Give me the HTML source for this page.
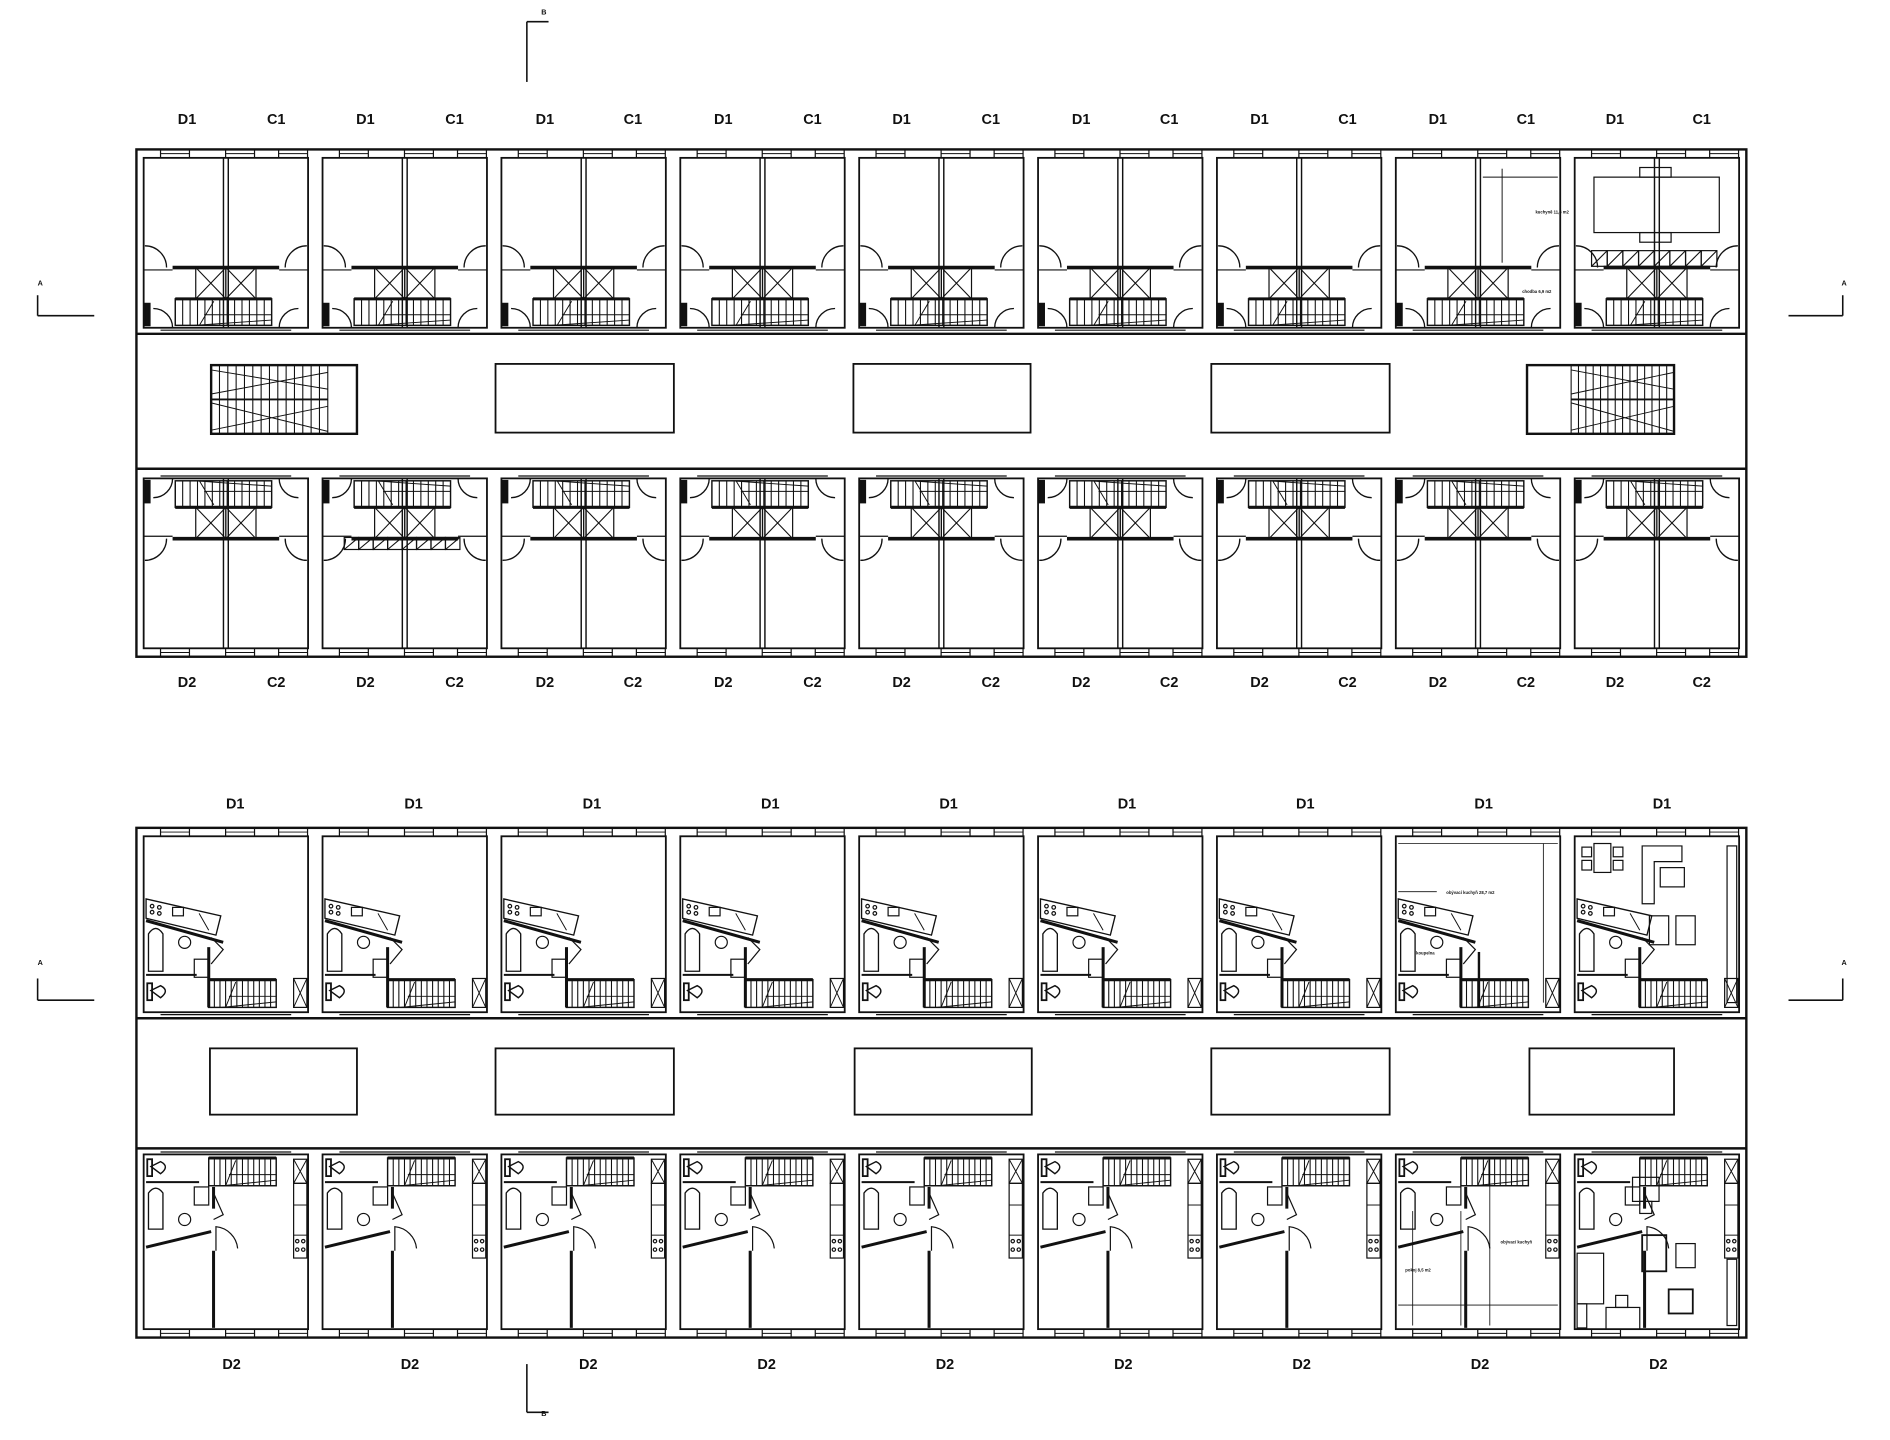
<!DOCTYPE html>
<html><head><meta charset="utf-8"><style>
html,body{margin:0;padding:0;background:#fff;}
svg{display:block}
text{font-family:"Liberation Sans",sans-serif;font-weight:bold;fill:#111;}
</style></head><body>
<svg id="s" xmlns="http://www.w3.org/2000/svg" width="1890" height="1440" viewBox="0 0 1568 1195">
<rect width="1568" height="1195" fill="#fff"/>
<g font-size="12" text-anchor="middle">
<text x="155" y="103">D1</text><text x="229" y="103">C1</text>
<text x="303" y="103">D1</text><text x="377" y="103">C1</text>
<text x="452" y="103">D1</text><text x="525" y="103">C1</text>
<text x="600" y="103">D1</text><text x="674" y="103">C1</text>
<text x="748" y="103">D1</text><text x="822" y="103">C1</text>
<text x="897" y="103">D1</text><text x="970" y="103">C1</text>
<text x="1045" y="103">D1</text><text x="1118" y="103">C1</text>
<text x="1193" y="103">D1</text><text x="1266" y="103">C1</text>
<text x="1340" y="103">D1</text><text x="1412" y="103">C1</text>
<text x="155" y="570">D2</text><text x="229" y="570">C2</text>
<text x="303" y="570">D2</text><text x="377" y="570">C2</text>
<text x="452" y="570">D2</text><text x="525" y="570">C2</text>
<text x="600" y="570">D2</text><text x="674" y="570">C2</text>
<text x="748" y="570">D2</text><text x="822" y="570">C2</text>
<text x="897" y="570">D2</text><text x="970" y="570">C2</text>
<text x="1045" y="570">D2</text><text x="1118" y="570">C2</text>
<text x="1193" y="570">D2</text><text x="1266" y="570">C2</text>
<text x="1340" y="570">D2</text><text x="1412" y="570">C2</text>
<text x="195" y="671">D1</text><text x="343" y="671">D1</text><text x="491" y="671">D1</text>
<text x="639" y="671">D1</text><text x="787" y="671">D1</text><text x="935" y="671">D1</text>
<text x="1083" y="671">D1</text><text x="1231" y="671">D1</text><text x="1379" y="671">D1</text>
<text x="192" y="1136">D2</text><text x="340" y="1136">D2</text><text x="488" y="1136">D2</text>
<text x="636" y="1136">D2</text><text x="784" y="1136">D2</text><text x="932" y="1136">D2</text>
<text x="1080" y="1136">D2</text><text x="1228" y="1136">D2</text><text x="1376" y="1136">D2</text>
</g>
<g font-size="6">
<text x="449" y="12">B</text><text x="449" y="1175">B</text>
<text x="31" y="237">A</text><text x="1528" y="237">A</text>
<text x="31" y="801">A</text><text x="1528" y="801">A</text>
<text x="1274" y="177" font-size="3.5">kuchyně 11,8 m2</text>
<text x="1263" y="243" font-size="3.5">chodba 6,9 m2</text>
<text x="1200" y="742" font-size="3.5">obývací kuchyň 28,7 m2</text>
<text x="1175" y="792" font-size="3.5">koupelna</text>
<text x="1245" y="1032" font-size="3.5">obývací kuchyň</text>
<text x="1166" y="1055" font-size="3.5">pokoj 8,5 m2</text>
</g>
<g id="g" fill="none" stroke="#111" stroke-width="1.2"></g>
</svg>
<script>
const NS="http://www.w3.org/2000/svg",G=document.getElementById('g');
function el(t,a,p){const e=document.createElementNS(NS,t);for(const k in a)e.setAttribute(k,a[k]);(p||G).appendChild(e);return e;}
function L(x1,y1,x2,y2,w,p){el('line',{x1,y1,x2,y2,'stroke-width':w||1.2},p);}
function R(x,y,w,h,sw,p,f){el('rect',{x,y,width:w,height:h,'stroke-width':sw||1.2,fill:f||'none'},p);}
function P(d,sw,p,f){el('path',{d,'stroke-width':sw||1.2,fill:f||'none'},p);}
function C(cx,cy,r,p){el('circle',{cx,cy,r,'stroke-width':1},p);}
const X0=113,W=1336/9;
function stairs(x,y,w,h,p,n){R(x,y,w,h,1.2,p);L(x,y,x+w,y,2.5,p);const k=n||13;for(let i=1;i<k;i++)L(x+i*w/k,y,x+i*w/k,y+h,0.9,p);P(`M${x+w*0.25} ${y+h}L${x+w*0.4} ${y+2}M${x+w*0.3} ${y+h*0.6}L${x+w} ${y+h*0.6}M${x+w*0.2} ${y+h}L${x+w} ${y+h*0.8}`,0.8,p);}
function windows(y,yy){for(let m=0;m<9;m++){const x=X0+m*W;[[20,44],[74,98],[118,142]].forEach(([a,b])=>{if(x+b<1446){L(x+a,y,x+a,yy,1,null);L(x+b,y,x+b,yy,1);L(x+a,(y+yy)/2,x+b,(y+yy)/2,0.8);}});}}
R(113,124,1336,421,2);
L(113,277,1449,277,2);L(113,389,1449,389,2);
windows(124,131);windows(538,545);
function topUnit(x0,p){
 R(x0+6,131,W-12,141,1.5,p);
 L(x0+W/2-2,131,x0+W/2-2,272,1.2,p);L(x0+W/2+2,131,x0+W/2+2,272,1.2,p);
 L(x0+30,222,x0+W-30,222,3,p);L(x0+6,224,x0+30,224,1,p);L(x0+W-30,224,x0+W-6,224,1,p);
 P(`M${x0+7} ${204}A18 18 0 0 1 ${x0+25} 222`,1.1,p);
 P(`M${x0+W-25} 222A18 18 0 0 1 ${x0+W-7} 204`,1.1,p);
 const bx=x0+W/2-25;R(bx,222,25,26,1,p);R(bx+25,222,25,26,1,p);
 P(`M${bx} 222L${bx+25} 248M${bx+25} 222L${bx} 248M${bx+25} 222L${bx+50} 248M${bx+50} 222L${bx+25} 248`,0.9,p);
 stairs(x0+W/2-42,248,80,22,p);
 P(`M${x0+14} 256A16 16 0 0 1 ${x0+30} 272`,1.1,p);
 P(`M${x0+W-30} 272A16 16 0 0 1 ${x0+W-14} 256`,1.1,p);
 R(x0+7,252,4,18,1.5,p,'#111');
 L(x0+20,274,x0+W-20,274,1,p);
}
for(let m=0;m<9;m++){const x0=X0+m*W;topUnit(x0);const g=el('g',{transform:'matrix(1,0,0,-1,0,669)'});topUnit(x0,g);}
{const x0=X0+8*W;R(x0+22,147,104,46,1);R(x0+60,139,26,8,1);R(x0+60,193,26,8,1);
 for(let i=0;i<8;i++){R(x0+20+i*13,208,13,13,1);L(x0+20+i*13,221,x0+33+i*13,208,0.9);}
 const x1=X0+7*W;L(x1+W/2+20,140,x1+W/2+20,218,0.8);L(x1+W/2+4,147,x1+W-8,147,0.8);}
{const x0=X0+1*W;for(let i=0;i<8;i++){R(x0+24+i*12,446,12,10,1);L(x0+24+i*12,456,x0+36+i*12,446,0.9);}}
function cstair(x,y,w,h,left){R(x,y,w,h,2);const sx=left?x:x+w*0.3,ex=left?x+w*0.8:x+w;for(let i=0;i<=14;i++){const xx=sx+i*(ex-sx)/14;L(xx,y,xx,y+h,0.9);}
 L(sx,y+h/2,ex,y+h/2,1.5);P(`M${sx} ${y+4}L${ex} ${y+h*0.35}M${sx} ${y+h*0.42}L${ex} ${y+6}M${ex} ${y+h*0.6}L${sx} ${y+h-3}M${ex} ${y+h-2}L${sx} ${y+h*0.55}`,0.8);}
cstair(175,303,121,57,true);cstair(1267,303,122,57,false);
R(411,302,148,57,1.5);R(708,302,147,57,1.5);R(1005,302,148,57,1.5);
R(113,687,1336,423,2);L(113,845,1449,845,2);L(113,953,1449,953,2);
windows(687,694);windows(1103,1110);
for(let m=0;m<9;m++){const x0=X0+m*W;
 R(x0+6,694,W-12,146,1.5);L(x0+20,842,x0+W-20,842,1);L(x0+20,956,x0+W-20,956,1);
 P(`M${x0+8} 746L${x0+70} 760L${x0+66} 776L${x0+8} 762Z`,1.1);
 P(`M${x0+8} 764L${x0+72} 782`,2.5);
 C(x0+13,752,1.5);C(x0+19,753,1.5);C(x0+13,757,1.5);C(x0+19,758,1.5);
 R(x0+30,753,9,7,1);P(`M${x0+52} 758L${x0+60} 772`,0.8);
 P(`M${x0+62} 778L${x0+72} 788L${x0+62} 800`,1);
 P(`M${x0+10} 806L${x0+10} 775Q${x0+16} 766 ${x0+22} 775L${x0+22} 806Z`,1.1);
 C(x0+40,782,5);L(x0+8,809,x0+50,809,1.6);
 P(`M${x0+12} 822L${x0+20} 818Q${x0+28} 822 ${x0+20} 828Z`,1.2);R(x0+9,816,4,14,1.5);
 L(x0+60,786,x0+60,836,2.5);R(x0+48,796,12,15,1);
 stairs(x0+60,813,56,23,null,12);
 R(x0+W-18,812,11,24,1);P(`M${x0+W-18} 812L${x0+W-7} 836M${x0+W-7} 812L${x0+W-18} 836`,0.8);
 R(x0+6,958,W-12,145,1.5);
 P(`M${x0+12} 968L${x0+20} 964Q${x0+28} 968 ${x0+20} 974Z`,1.2);R(x0+9,962,4,14,1.5);
 L(x0+8,981,x0+52,981,1.6);
 stairs(x0+60,961,56,23,null,12);
 R(x0+48,985,12,15,1);
 P(`M${x0+10} 1020L${x0+10} 990Q${x0+16} 982 ${x0+22} 990L${x0+22} 1020Z`,1.1);
 C(x0+40,1012,5);
 P(`M${x0+8} 1035L${x0+62} 1022`,2.5);
 L(x0+64,985,x0+64,1003,2.5);L(x0+64,1038,x0+64,1102,2.5);
 P(`M${x0+66} 1038L${x0+66} 1018A20 20 0 0 1 ${x0+84} 1036`,1);
 P(`M${x0+64} 990L${x0+72} 1008L${x0+64} 1012`,1);
 R(x0+W-18,962,11,20,1);P(`M${x0+W-18} 962L${x0+W-7} 982M${x0+W-7} 962L${x0+W-18} 982`,0.8);
 R(x0+W-18,982,11,62,1);L(x0+W-18,1000,x0+W-7,1000,0.8);L(x0+W-18,1025,x0+W-7,1025,0.8);
 C(x0+W-15,1030,1.4);C(x0+W-10,1030,1.4);C(x0+W-15,1037,1.4);C(x0+W-10,1037,1.4);
}
{const x0=X0+8*W;R(x0+22,700,14,24,1);R(x0+12,703,8,8,1);R(x0+38,703,8,8,1);R(x0+12,714,8,8,1);R(x0+38,714,8,8,1);
 P(`M${x0+62} 702L${x0+95} 702L${x0+95} 715L${x0+72} 715L${x0+72} 750L${x0+62} 750Z`,1);
 R(x0+77,720,20,16,1);R(x0+68,760,16,24,1);R(x0+90,760,16,24,1);R(x0+W-16,702,8,130,1);
 R(x0+54,977,22,20,1);R(x0+60,997,10,10,1);R(x0+62,1025,20,30,1.5);R(x0+90,1032,16,20,1);R(x0+84,1070,20,20,1.5);
 R(x0+8,1040,22,42,1);R(x0+8,1082,8,20,1);R(x0+32,1085,28,18,1);R(x0+40,1075,10,10,1);R(x0+W-16,1045,8,55,1);}
{const x0=X0+7*W;L(x0+8,700,x0+W-8,700,0.7);L(x0+W-20,700,x0+W-20,832,0.7);L(x0+8,740,x0+40,740,0.7);
 L(x0+84,960,x0+84,1100,0.7);L(x0+20,1005,x0+20,1100,0.7);L(x0+60,1005,x0+60,1100,0.7);L(x0+8,1083,x0+W-8,1083,0.7);
 L(x0+75,790,x0+75,836,2);}
R(174,870,122,55,1.5);R(411,870,148,55,1.5);R(709,870,147,55,1.5);R(1005,870,148,55,1.5);R(1269,870,120,55,1.5);
L(437,18,437,68,1.3);L(437,18,455,18,1.3);
L(437,1132,437,1172,1.3);L(437,1172,455,1172,1.3);
L(31,245,31,262,1.3);L(31,262,78,262,1.3);
L(1529,245,1529,262,1.3);L(1484,262,1529,262,1.3);
L(31,812,31,830,1.3);L(31,830,78,830,1.3);
L(1529,812,1529,830,1.3);L(1484,830,1529,830,1.3);
</script>
</body></html>
